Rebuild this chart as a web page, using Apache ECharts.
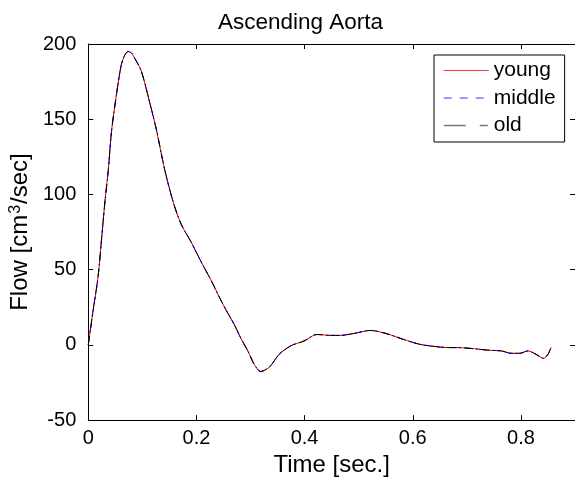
<!DOCTYPE html>
<html>
<head>
<meta charset="utf-8">
<script src="https://cdn.jsdelivr.net/npm/echarts@6/dist/echarts.min.js"></script>
<style>
html,body{margin:0;padding:0;background:#fff;}
#c{width:575px;height:482px;}
</style>
</head>
<body>
<div id="c"></div>
<script>
var time = [0, 0.009, 0.018, 0.025, 0.031, 0.037, 0.043, 0.052, 0.061, 0.068,
  0.074, 0.080, 0.086, 0.098, 0.113, 0.126, 0.141, 0.157, 0.172, 0.190,
  0.209, 0.227, 0.242, 0.255, 0.270, 0.282, 0.295, 0.307, 0.319, 0.328,
  0.337, 0.353, 0.374, 0.399, 0.423, 0.448, 0.466, 0.491, 0.522, 0.552,
  0.583, 0.614, 0.644, 0.666, 0.681, 0.712, 0.742, 0.764, 0.782, 0.798,
  0.813, 0.828, 0.842, 0.850, 0.856];
var young = [0, 23, 45, 72, 96, 116, 142, 166, 186, 193,
  195, 194, 190.5, 182, 162, 143, 117, 95, 80, 68.5,
  55, 43, 32, 23, 13.5, 4.5, -4, -13, -17.7, -16.5,
  -14, -6.3, -0.7, 2.6, 6.9, 6.3, 6.3, 7.6, 9.6, 7.4,
  3.6, 0.3, -1.2, -1.8, -1.8, -2.5, -3.6, -4, -5.6, -5.6,
  -4, -6.3, -8.9, -6.3, -1.4];
var middle = [0, 23, 45, 72, 96, 116, 142, 166, 186, 193,
  195, 194, 190.5, 182, 162, 143, 117, 95, 80, 68.5,
  55, 43, 32, 23, 13.5, 4.5, -4, -13, -17.7, -16.5,
  -14, -6.3, -0.7, 2.6, 6.9, 6.3, 6.3, 7.6, 9.6, 7.4,
  3.6, 0.3, -1.2, -1.8, -1.8, -2.5, -3.6, -4, -5.6, -5.6,
  -4, -6.3, -8.9, -6.3, -1.4];
var old = [0, 23, 45, 72, 96, 116, 142, 166, 186, 193,
  195, 194, 190.5, 182, 162, 143, 117, 95, 80, 68.5,
  55, 43, 32, 23, 13.5, 4.5, -4, -13, -17.7, -16.5,
  -14, -6.3, -0.7, 2.6, 6.9, 6.3, 6.3, 7.6, 9.6, 7.4,
  3.6, 0.3, -1.2, -1.8, -1.8, -2.5, -3.6, -4, -5.6, -5.6,
  -4, -6.3, -8.9, -6.3, -1.4];
var xTicks = [0, 0.2, 0.4, 0.6, 0.8];
var yTicks = [-50, 0, 50, 100, 150, 200];
var seriesNames = ['young', 'middle', 'old'];

function pairs(ys) { return time.map(function (t, i) { return [t, ys[i]]; }); }

var FONT = '"Liberation Sans", Arial, Helvetica, sans-serif';
var chart = echarts.init(document.getElementById('c'));

function axisLineStyle() { return { show: true, onZero: false, lineStyle: { color: '#000', width: 1 } }; }
function tickStyle(vals) { return { show: true, inside: true, length: 5, customValues: vals, lineStyle: { color: '#000', width: 1 } }; }

chart.setOption({
  animation: false,
  backgroundColor: '#fff',
  textStyle: { fontFamily: FONT },
  title: {
    text: 'Ascending Aorta',
    left: 213, top: 6,
    textStyle: { fontFamily: FONT, fontSize: 22.5, fontWeight: 'normal', color: '#000' }
  },
  grid: { left: 87, right: -1, top: 44, bottom: 59, containLabel: false },
  legend: {
    left: 434, top: 55, orient: 'vertical',
    backgroundColor: '#fff', borderColor: '#000', borderWidth: 1,
    padding: [5, 9, 6, 9], itemGap: 6.5, itemWidth: 45, itemHeight: 14,
    itemStyle: { opacity: 0 },
    lineStyle: { width: 1 },
    textStyle: { fontFamily: FONT, fontSize: 21, color: '#000' },
    data: [
      { name: 'young', lineStyle: { color: '#ff3333', width: 1, type: 'solid' } },
      { name: 'middle', lineStyle: { color: '#3333ff', width: 1, type: [8, 8] } },
      { name: 'old', lineStyle: { color: '#777', width: 1.5, type: [22, 14, 8, 6] } }
    ]
  },
  xAxis: [{
    type: 'value', min: 0, max: 0.9, interval: 0.2, position: 'bottom',
    name: 'Time [sec.]', nameLocation: 'middle', nameGap: 30,
    nameTextStyle: { fontFamily: FONT, fontSize: 24, color: '#000' },
    axisLine: axisLineStyle(),
    axisTick: tickStyle(xTicks),
    axisLabel: { customValues: xTicks, fontFamily: FONT, fontSize: 20, color: '#000', margin: 8 },
    splitLine: { show: false }
  }, {
    type: 'value', min: 0, max: 0.9, interval: 0.2, position: 'top',
    axisLine: axisLineStyle(),
    axisTick: tickStyle(xTicks),
    axisLabel: { show: false },
    splitLine: { show: false }
  }],
  yAxis: [{
    type: 'value', min: -50, max: 200, interval: 50, position: 'left',
    name: 'Flow [cm{sup|3}/sec]', nameLocation: 'middle', nameGap: 48, nameRotate: 90,
    nameTextStyle: {
      fontFamily: FONT, fontSize: 24, color: '#000',
      rich: { sup: { fontFamily: FONT, fontSize: 16, color: '#000', verticalAlign: 'top', padding: [0, 1, 8, 1] } }
    },
    axisLine: axisLineStyle(),
    axisTick: tickStyle(yTicks),
    axisLabel: { customValues: yTicks, fontFamily: FONT, fontSize: 20, color: '#000', margin: 12 },
    splitLine: { show: false }
  }, {
    type: 'value', min: -50, max: 200, interval: 50, position: 'right',
    axisLine: axisLineStyle(),
    axisTick: tickStyle(yTicks),
    axisLabel: { show: false },
    splitLine: { show: false }
  }],
  series: [
    { name: seriesNames[0], type: 'line', data: pairs(young), symbol: 'none', smooth: 0.3,
      color: '#ff0000', lineStyle: { color: '#ff0000', width: 1, type: 'solid' } },
    { name: seriesNames[1], type: 'line', data: pairs(middle), symbol: 'none', smooth: 0.3,
      color: '#0000ff', lineStyle: { color: '#0000ff', width: 1, type: [7, 7] } },
    { name: seriesNames[2], type: 'line', data: pairs(old), symbol: 'none', smooth: 0.3,
      color: '#000000', lineStyle: { color: '#000000', width: 1, type: [9, 3, 2, 3] } }
  ]
});
</script>
</body>
</html>
